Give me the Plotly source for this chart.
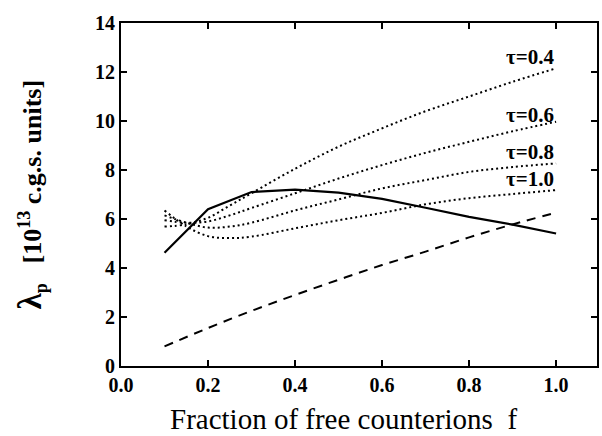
import plotly.graph_objects as go

# ---- data ----
f_solid = [0.1, 0.2, 0.3, 0.4, 0.5, 0.6, 0.7, 0.8, 0.9, 1.0]
lam_solid = [4.62, 6.40, 7.10, 7.20, 7.08, 6.82, 6.46, 6.09, 5.77, 5.41]

f_dashed = [0.1, 0.2, 0.3, 0.4, 0.5, 0.6, 0.7, 0.8, 0.9, 1.0]
lam_dashed = [0.80, 1.55, 2.25, 2.90, 3.52, 4.12, 4.67, 5.25, 5.78, 6.26]

f_tau = [0.1, 0.15, 0.2, 0.25, 0.3, 0.4, 0.5, 0.6, 0.7, 0.8, 0.9, 1.0]
lam_tau04 = [5.69, 5.78, 6.05, 6.55, 7.05, 8.05, 8.95, 9.70, 10.40, 11.00, 11.60, 12.15]
lam_tau06 = [5.95, 5.85, 5.90, 6.15, 6.45, 7.05, 7.65, 8.20, 8.70, 9.15, 9.58, 9.97]
lam_tau08 = [6.15, 5.85, 5.65, 5.69, 5.85, 6.35, 6.80, 7.25, 7.59, 7.92, 8.12, 8.27]
lam_tau10 = [6.35, 5.70, 5.30, 5.22, 5.28, 5.62, 5.95, 6.25, 6.60, 6.85, 7.02, 7.18]

tau_labels = ["τ=0.4", "τ=0.6", "τ=0.8", "τ=1.0"]
tau_label_y = [12.6, 10.24, 8.75, 7.63]

x_ticks = [0.0, 0.2, 0.4, 0.6, 0.8, 1.0]
y_ticks = [0, 2, 4, 6, 8, 10, 12, 14]

FONT = "Liberation Serif"

fig = go.Figure()
for ys in [lam_tau04, lam_tau06, lam_tau08, lam_tau10]:
    fig.add_trace(go.Scatter(x=f_tau, y=ys, mode="lines", line_shape="spline",
                             line=dict(color="black", width=2, dash="2px,3px"),
                             showlegend=False))
fig.add_trace(go.Scatter(x=f_dashed, y=lam_dashed, mode="lines", line_shape="spline",
                         line=dict(color="black", width=2, dash="9px,7px"), showlegend=False))
fig.add_trace(go.Scatter(x=f_solid, y=lam_solid, mode="lines",
                         line=dict(color="black", width=2.2), showlegend=False))

for txt, yv in zip(tau_labels, tau_label_y):
    fig.add_annotation(x=1.0, y=yv, xref="x", yref="y", text=txt, showarrow=False,
                       xanchor="right", yanchor="middle",
                       font=dict(family=FONT, size=21, color="black", weight="bold"))

axis_common = dict(showline=True, linecolor="black", linewidth=2, mirror="ticks",
                   ticks="inside", ticklen=6, tickwidth=1.5, tickcolor="black",
                   showgrid=False, zeroline=False,
                   tickfont=dict(family=FONT, size=20, color="black", weight="bold"))

fig.update_xaxes(range=[0, 1.094], tickvals=x_ticks,
                 ticktext=[f"{v:.1f}" for v in x_ticks], **axis_common)
fig.update_yaxes(range=[0, 14], tickvals=y_ticks,
                 ticktext=[str(v) for v in y_ticks], **axis_common)

fig.add_annotation(x=(344 - 121) / 478, y=-(419 - 366) / 343, xref="paper", yref="paper",
                   text="Fraction of free counterions  f", showarrow=False,
                   xanchor="center", yanchor="middle",
                   font=dict(family=FONT, size=29, color="black"))
fig.add_annotation(x=-(121 - 31) / 478, y=(366 - 195) / 343, xref="paper", yref="paper",
                   text='<span style="font-size:33px">λ</span><sub>p</sub>   [10<sup>13</sup> c.g.s. units]',
                   showarrow=False,
                   textangle=-90, xanchor="center", yanchor="middle",
                   font=dict(family=FONT, size=26, color="black", weight="bold"))

fig.update_layout(width=602, height=436, margin=dict(l=121, r=3, t=23, b=70),
                  paper_bgcolor="white", plot_bgcolor="white")

fig.write_html("out.html")
